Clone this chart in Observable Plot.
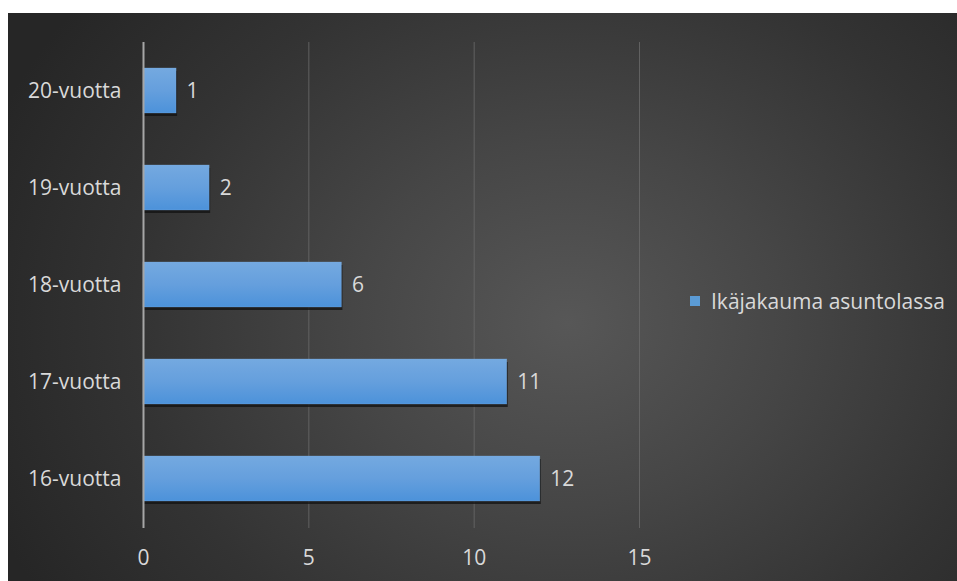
<!DOCTYPE html>
<html>
<head>
<meta charset="utf-8">
<script src="https://cdn.jsdelivr.net/npm/d3@7"></script>
<script src="https://cdn.jsdelivr.net/npm/@observablehq/plot@0.6"></script>
<style>
  html, body { margin: 0; padding: 0; background: #ffffff; }
  #wrap {
    position: absolute; left: 8px; top: 13px; width: 949px; height: 568px;
    background: radial-gradient(ellipse 620px 520px at 560px 310px, #575757 0%, #464646 35%, #333333 70%, #262626 100%);
    overflow: hidden;
  }
  #legend {
    position: absolute; left: 682px; top: 274px;
    font-family: "Open Sans", Lato, sans-serif; font-size: 21px; color: #d9d9d9;
    display: flex; align-items: center; white-space: nowrap;
  }
  #legend .sw { width: 10px; height: 10px; background: #5b9bd5; margin-right: 11px; }
</style>
</head>
<body>
<div id="wrap"><div id="legend"><span class="sw"></span><span id="legtext"></span></div></div>
<script>
const categories = ["20-vuotta", "19-vuotta", "18-vuotta", "17-vuotta", "16-vuotta"];
const values = [1, 2, 6, 11, 12];
const xTicks = [0, 5, 10, 15];
const seriesName = "Ikäjakauma asuntolassa";

const data = categories.map((c, i) => ({category: c, value: values[i]}));

const defs = () => {
  const svgNS = "http://www.w3.org/2000/svg";
  const d = document.createElementNS(svgNS, "defs");
  d.innerHTML = `<linearGradient id="barGrad" x1="0" y1="0" x2="0" y2="1">
      <stop offset="0%" stop-color="#74a9e0"/>
      <stop offset="50%" stop-color="#659fdd"/>
      <stop offset="100%" stop-color="#4c92da"/>
    </linearGradient>`;
  return d;
};

const FS = 21;
const plot = Plot.plot({
  width: 949,
  height: 568,
  marginLeft: 135,
  marginRight: 318,
  marginTop: 29,
  marginBottom: 53,
  style: {background: "transparent", fontFamily: "'Open Sans', Lato, sans-serif", color: "#d9d9d9", overflow: "visible"},
  x: {domain: [0, 15], ticks: xTicks, label: null},
  y: {domain: categories, label: null, paddingInner: 0.535, paddingOuter: 0.2675, align: 0.5},
  marks: [
    defs,
    Plot.ruleX(xTicks.filter(t => t > 0), {stroke: "#6a6a6a", strokeWidth: 1, strokeOpacity: 0.8}),
    Plot.barX(data, {x: "value", y: "category", fill: "#111111", fillOpacity: 0.75, dy: 3, dx: 1}),
    Plot.barX(data, {x: "value", y: "category", fill: "url(#barGrad)", stroke: "#7fb2e6", strokeWidth: 0.6, strokeOpacity: 0.5}),
    Plot.ruleX([0], {stroke: "#a6a6a6", strokeWidth: 2}),
    Plot.text(data, {x: "value", y: "category", text: d => String(d.value), textAnchor: "start", dx: 10, fill: "#d9d9d9", fontSize: FS}),
    Plot.axisX({ticks: xTicks, tickSize: 0, tickPadding: 22, fontSize: FS, fill: "#d9d9d9", label: null}),
    Plot.axisY({tickSize: 0, tickPadding: 22, fontSize: FS, fill: "#d9d9d9", label: null})
  ]
});
document.getElementById("wrap").appendChild(plot);
document.getElementById("legtext").textContent = seriesName;
</script>
</body>
</html>
